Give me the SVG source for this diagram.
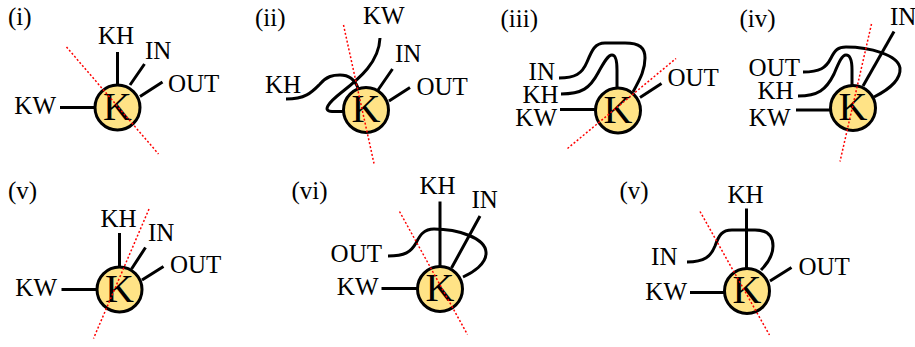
<svg xmlns="http://www.w3.org/2000/svg" width="915" height="347" viewBox="0 0 915 347">
<style>
text{font-family:"Liberation Serif","Times New Roman",serif;font-size:25px;fill:#000}
.t{font-size:25px}
.k{font-size:40px;text-anchor:middle}
.e{text-anchor:end}
.m{text-anchor:middle}
.w{fill:none;stroke:#000;stroke-width:3}
.n{fill:#FFE386;stroke:#000;stroke-width:3}
.r{fill:none;stroke:#FF0000;stroke-width:1.5;stroke-dasharray:2 2}
</style>
<rect width="915" height="347" fill="#fff"/>

<g id="panel-i">
<text class="t" x="8" y="25">(i)</text>
<g id="i-connectors">
<path class="w" d="M60,107.5H95 M117.5,52V85 M144.5,64L130,85 M162.5,82L140,96.5"/>
</g>
<g id="i-node"><circle class="n" cx="117.5" cy="107.5" r="22.5"/><text class="k" x="117.5" y="119.5">K</text></g>
<text class="e" x="56" y="114">KW</text>
<text class="m" x="116" y="44">KH</text>
<text x="145" y="59">IN</text>
<text x="168" y="92">OUT</text>
<path class="r" d="M66.5,47L158.5,154"/>
</g>

<g id="panel-ii">
<text class="t" x="255" y="26">(ii)</text>
<g id="ii-connectors">
<path class="w" d="M380,38C379,62 360,78 342,92C328,103 322,111 332,111.5L345,111.5"/>
<path class="w" d="M286,99C306,99 312,92 320,84C327,76 333,75 340,75C350,75 355,80 358,88"/>
<path class="w" d="M392.5,69L378,90 M410,87.5L389,101"/>
</g>
<g id="ii-node"><circle class="n" cx="366" cy="110" r="22.5"/><text class="k" x="366" y="122">K</text></g>
<text x="363" y="24">KW</text>
<text x="265" y="93">KH</text>
<text x="395" y="62">IN</text>
<text x="416.5" y="94.5">OUT</text>
<path class="r" d="M343.5,25L374,163.5"/>
</g>

<g id="panel-iii">
<text class="t" x="500.5" y="26.5">(iii)</text>
<g id="iii-connectors">
<path class="w" d="M560,109.5H596"/>
<path class="w" d="M561,94C582,94 590,88 598,73C604,62 608,55 612,55C616,55 617,62 617,70L617,88"/>
<path class="w" d="M559,78C575,78 582,74 587,62C592,50 595,43 605,43L625,43C640,43 645,48 645,58C645,72 638,82 633,92"/>
<path class="w" d="M661.5,83.5L640,97.5"/>
</g>
<g id="iii-node"><circle class="n" cx="618" cy="110.5" r="22.5"/><text class="k" x="618" y="122.5">K</text></g>
<text class="e" x="555" y="79.5">IN</text>
<text class="e" x="558.5" y="103">KH</text>
<text class="e" x="557" y="126">KW</text>
<text x="667.5" y="86">OUT</text>
<path class="r" d="M567.5,148.5L676,58.5"/>
</g>

<g id="panel-iv">
<text class="t" x="739.5" y="26.5">(iv)</text>
<g id="iv-connectors">
<path class="w" d="M796,110H831"/>
<path class="w" d="M798,96C818,96 826,90 834,74C839,62 842,55 846,55C851,55 852,62 852,70L852,85.5"/>
<path class="w" d="M803,72C820,72 826,68 831,58C835,50 838,47 846,47C870,47 898,55 900,68C901,80 888,90 874,97"/>
<path class="w" d="M894,31.5L863,86"/>
</g>
<g id="iv-node"><circle class="n" cx="853" cy="108" r="22.5"/><text class="k" x="853" y="120">K</text></g>
<text class="e" x="800" y="76">OUT</text>
<text class="e" x="793.5" y="99">KH</text>
<text class="e" x="790.5" y="126">KW</text>
<text x="890" y="25">IN</text>
<path class="r" d="M871.5,24L840,161.5"/>
</g>

<g id="panel-v">
<text class="t" x="8" y="198.5">(v)</text>
<g id="v-connectors">
<path class="w" d="M61.5,289.5H97 M119.5,233V267 M145.5,247.5L131.5,269 M163.5,266.5L142,280"/>
</g>
<g id="v-node"><circle class="n" cx="119.5" cy="289.5" r="22.5"/><text class="k" x="119.5" y="301.5">K</text></g>
<text class="e" x="57" y="296">KW</text>
<text class="m" x="118.5" y="226.5">KH</text>
<text x="148" y="241">IN</text>
<text x="170" y="273">OUT</text>
<path class="r" d="M149,209L93.5,338.5"/>
</g>

<g id="panel-vi">
<text class="t" x="291.5" y="198.5">(vi)</text>
<g id="vi-connectors">
<path class="w" d="M381.5,288.5H417 M440,201.5V267 M480,216L451.5,268"/>
<path class="w" d="M388,256C405,256 411,252 416,243C420,235 424,229 434,229C458,229 485,238 486,252C487,264 472,273 463,277"/>
</g>
<g id="vi-node"><circle class="n" cx="440" cy="289" r="22.5"/><text class="k" x="440" y="301">K</text></g>
<text class="e" x="378.5" y="295">KW</text>
<text class="e" x="382" y="262">OUT</text>
<text class="m" x="437.5" y="194">KH</text>
<text x="471.5" y="207.5">IN</text>
<path class="r" d="M399.5,211.5L467.5,334.5"/>
</g>

<g id="panel-vii">
<text class="t" x="619.5" y="198.5">(v)</text>
<g id="vii-connectors">
<path class="w" d="M690,292.5H724.5 M746.5,208.5V268.5 M791.5,267.5L770,281"/>
<path class="w" d="M687,262C705,262 711,256 715,246C719,235 722,230 732,230L755,230C768,230 773,236 773,246C773,256 767,264 761,270"/>
</g>
<g id="vii-node"><circle class="n" cx="747" cy="291" r="22.5"/><text class="k" x="747" y="303">K</text></g>
<text class="e" x="687" y="300">KW</text>
<text class="e" x="677.5" y="264.5">IN</text>
<text class="m" x="745.5" y="202.5">KH</text>
<text x="798.5" y="275">OUT</text>
<path class="r" d="M700,211.5L769.5,335"/>
</g>
</svg>
